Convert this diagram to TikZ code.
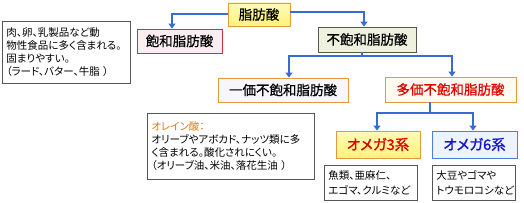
\documentclass[tikz,border=0pt]{standalone}
\usepackage{fontspec}
\setmainfont[RawFeature=+palt]{Noto Sans CJK JP}
\newfontfamily\labelfont[RawFeature=+palt,FakeBold=0.6]{Noto Sans CJK JP}
\newfontfamily\omegafont[RawFeature=+palt,FakeBold=1.2]{Noto Sans CJK JP}
\usetikzlibrary{arrows.meta}
\definecolor{arrowblue}{HTML}{3A6AD8}
\definecolor{orangeline}{HTML}{E39A3A}
\definecolor{yellowfill}{HTML}{FFF27A}
\definecolor{yellowtop}{HTML}{FFFAB8}
\definecolor{redline}{HTML}{C8343C}
\definecolor{pinkfill}{HTML}{FBEEF3}
\definecolor{greenfill}{HTML}{EEF1DE}
\definecolor{greenline}{HTML}{55584A}
\definecolor{creamfill}{HTML}{FFFBF0}
\definecolor{lavfill}{HTML}{F8F6FB}
\definecolor{bluefill}{HTML}{EEF4FF}
\definecolor{blueline}{HTML}{4A7FE0}
\definecolor{redtext}{HTML}{E00000}
\definecolor{bluetext}{HTML}{1515C8}
\definecolor{oleic}{HTML}{E07A10}
\definecolor{grayline}{HTML}{555555}
\tikzset{
  labelbox/.style={draw, line width=0.9pt, inner sep=0pt, font=\labelfont\fontsize{13.5}{15}\selectfont},
  omegabox/.style={draw, line width=0.9pt, inner sep=0pt, minimum width=84pt, minimum height=27pt, font=\omegafont\fontsize{14.5}{16}\selectfont},
  notebox/.style={draw=grayline, line width=0.9pt, fill=white, anchor=north west, align=left, inner xsep=4pt, inner ysep=4pt},
  conn/.style={draw=arrowblue, line width=1.6pt},
  arr/.style={conn, -{Triangle[length=5pt,width=7pt]}}
}
\begin{document}
\begin{tikzpicture}[x=1pt,y=-1pt]
\useasboundingbox (0,0) rectangle (524,203);

% label boxes
\node[labelbox, draw=orangeline, top color=yellowtop, bottom color=yellowfill, minimum width=62pt, minimum height=23pt] (fa) at (259,14.5) {脂肪酸};
\node[labelbox, draw=redline, fill=pinkfill, minimum width=85pt, minimum height=24pt] (sat) at (179.5,41) {飽和脂肪酸};
\node[labelbox, draw=greenline, fill=greenfill, minimum width=98pt, minimum height=25pt] (unsat) at (367,39.5) {不飽和脂肪酸};
\node[labelbox, draw=orangeline, fill=lavfill, minimum width=130pt, minimum height=24pt] (mono) at (283,90) {一価不飽和脂肪酸};
\node[labelbox, draw=orangeline, fill=creamfill, text=redtext, minimum width=131pt, minimum height=25pt] (poly) at (450.5,89.5) {多価不飽和脂肪酸};
\node[omegabox, draw=orangeline, top color=yellowtop, bottom color=yellowfill, text=redtext] (o3) at (378,144.5) {オメガ3系};
\node[omegabox, draw=blueline, fill=bluefill, text=bluetext, minimum width=85pt] (o6) at (474.5,144.5) {オメガ6系};

% note boxes
\node[notebox, text width=120pt, minimum height=62pt, font=\fontsize{10.5}{13}\selectfont] (satnote) at (2,21) {肉、卵、乳製品など動\\物性食品に多く含まれる。\\固まりやすい。\\（ラード、バター、牛脂 ）};
\node[notebox, text width=159pt, minimum height=66pt, inner ysep=3pt, font=\fontsize{10.5}{13}\selectfont] (olnote) at (147,113) {{\color{oleic}オレイン酸：}\\オリーブやアボカド、ナッツ類に多\\く含まれる。酸化されにくい。\\（オリーブ油、米油、落花生油 ）};
\node[notebox, text width=85pt, minimum height=35pt, inner ysep=2pt, font=\fontsize{10.5}{15}\selectfont] (o3note) at (324,165) {魚類、亜麻仁、\\エゴマ、クルミなど};
\node[notebox, text width=75pt, minimum height=35pt, inner ysep=2pt, font=\fontsize{10.5}{15}\selectfont] (o6note) at (432,165) {大豆やゴマや\\トウモロコシなど};

% connectors
\coordinate (j1) at (172,14);
\coordinate (j2) at (364,12);
\draw[arr] (fa.west |- j1) -- (j1) -- (j1 |- sat.north);
\draw[arr] (fa.east |- j2) -- (j2) -- (j2 |- unsat.north);

\coordinate (j3) at (362,56);
\coordinate (j3l) at (289,56);
\coordinate (j3r) at (452,56);
\draw[conn] (j3 |- unsat.south) -- (j3);
\draw[arr] (j3) -- (j3l) -- (j3l |- mono.north);
\draw[arr] (j3) -- (j3r) -- (j3r |- poly.north);

\coordinate (j4) at (430,113);
\coordinate (j4l) at (377,113);
\coordinate (j4r) at (473,113);
\draw[conn] (j4 |- poly.south) -- (j4);
\draw[arr] (j4) -- (j4l) -- (j4l |- o3.north);
\draw[arr] (j4) -- (j4r) -- (j4r |- o6.north);
\end{tikzpicture}
\end{document}
